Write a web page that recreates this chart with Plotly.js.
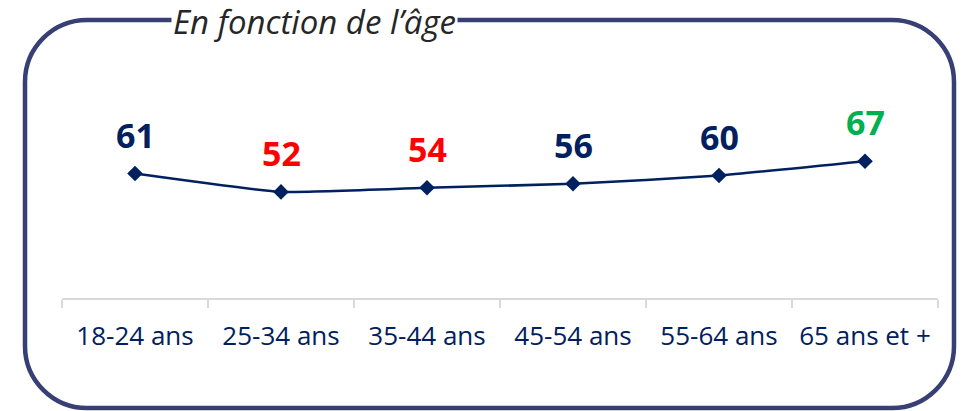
<!DOCTYPE html>
<html>
<head>
<meta charset="utf-8">
<script src="https://cdn.plot.ly/plotly-3.0.1.min.js"></script>
<style>html,body{margin:0;padding:0;background:#fff;}#chart{width:966px;height:411px;}</style>
</head>
<body>
<div id="chart"></div>
<script>
const categories = ["18-24 ans", "25-34 ans", "35-44 ans", "45-54 ans", "55-64 ans", "65 ans et +"];
const values = [61, 52, 54, 56, 60, 67];
const labelColors = ["#002060", "#ff0000", "#ff0000", "#002060", "#002060", "#00b050"];
const chartTitle = "En fonction de l’âge";

const W = 966, H = 411, L = 62, R = 28, T = 98, B = 113;
const PW = W - L - R, PH = H - T - B;
const fx = p => (p - L) / PW;
const fy = p => (H - B - p) / PH;

// rounded border path (pixel geometry converted to paper coords)
function roundedRect(x0, y0, x1, y1, r) {
  const k = 0.5523 * r;
  const P = (x, y) => fx(x).toFixed(5) + "," + fy(y).toFixed(5);
  return "M" + P(x0 + r, y0) +
    " L" + P(x1 - r, y0) +
    " C" + P(x1 - r + k, y0) + " " + P(x1, y0 + r - k) + " " + P(x1, y0 + r) +
    " L" + P(x1, y1 - r) +
    " C" + P(x1, y1 - r + k) + " " + P(x1 - r + k, y1) + " " + P(x1 - r, y1) +
    " L" + P(x0 + r, y1) +
    " C" + P(x0 + r - k, y1) + " " + P(x0, y1 - r + k) + " " + P(x0, y1 - r) +
    " L" + P(x0, y0 + r) +
    " C" + P(x0, y0 + r - k) + " " + P(x0 + r - k, y0) + " " + P(x0 + r, y0) + " Z";
}

const trace = {
  type: "scatter",
  mode: "lines+markers",
  x: categories,
  y: values,
  line: {color: "#002060", width: 2.5, shape: "spline", smoothing: 0.4},
  marker: {symbol: "diamond", size: 12, color: "#002060"},
  hoverinfo: "skip",
  cliponaxis: false
};

const annotations = categories.map((c, i) => ({
  x: c, y: values[i], xref: "x", yref: "y",
  text: "<b>" + values[i] + "</b>",
  showarrow: false, yshift: 39,
  font: {family: "Open Sans, sans-serif", size: 34, color: labelColors[i]}
}));

annotations.push({
  xref: "paper", yref: "paper", x: fx(314), y: fy(21),
  xanchor: "center", yanchor: "middle",
  text: "<i>" + chartTitle + "</i>",
  showarrow: false, bgcolor: "#ffffff", borderpad: 1,
  font: {family: "Open Sans, sans-serif", size: 33, color: "#262626"}
});

const layout = {
  width: W, height: H,
  margin: {l: L, r: R, t: T, b: B, pad: 0},
  paper_bgcolor: "#ffffff", plot_bgcolor: "#ffffff",
  showlegend: false,
  xaxis: {
    type: "category", range: [-0.5, 5.5],
    showgrid: false, zeroline: false,
    showline: true, linecolor: "#d9d9d9", linewidth: 2,
    ticks: "outside", tickson: "boundaries", ticklen: 8, tickwidth: 2, tickcolor: "#d9d9d9",
    ticklabelstandoff: 14,
    tickfont: {family: "Open Sans, sans-serif", size: 26, color: "#002060"},
    fixedrange: true
  },
  yaxis: {
    range: [0, 98], visible: false, showgrid: false, zeroline: false, fixedrange: true
  },
  shapes: [{
    type: "path", xref: "paper", yref: "paper",
    path: roundedRect(25, 20, 954, 408, 62),
    line: {color: "#373f75", width: 4.5}, layer: "below"
  }],
  annotations: annotations
};

Plotly.newPlot("chart", [trace], layout, {displayModeBar: false, staticPlot: true});
</script>
</body>
</html>
